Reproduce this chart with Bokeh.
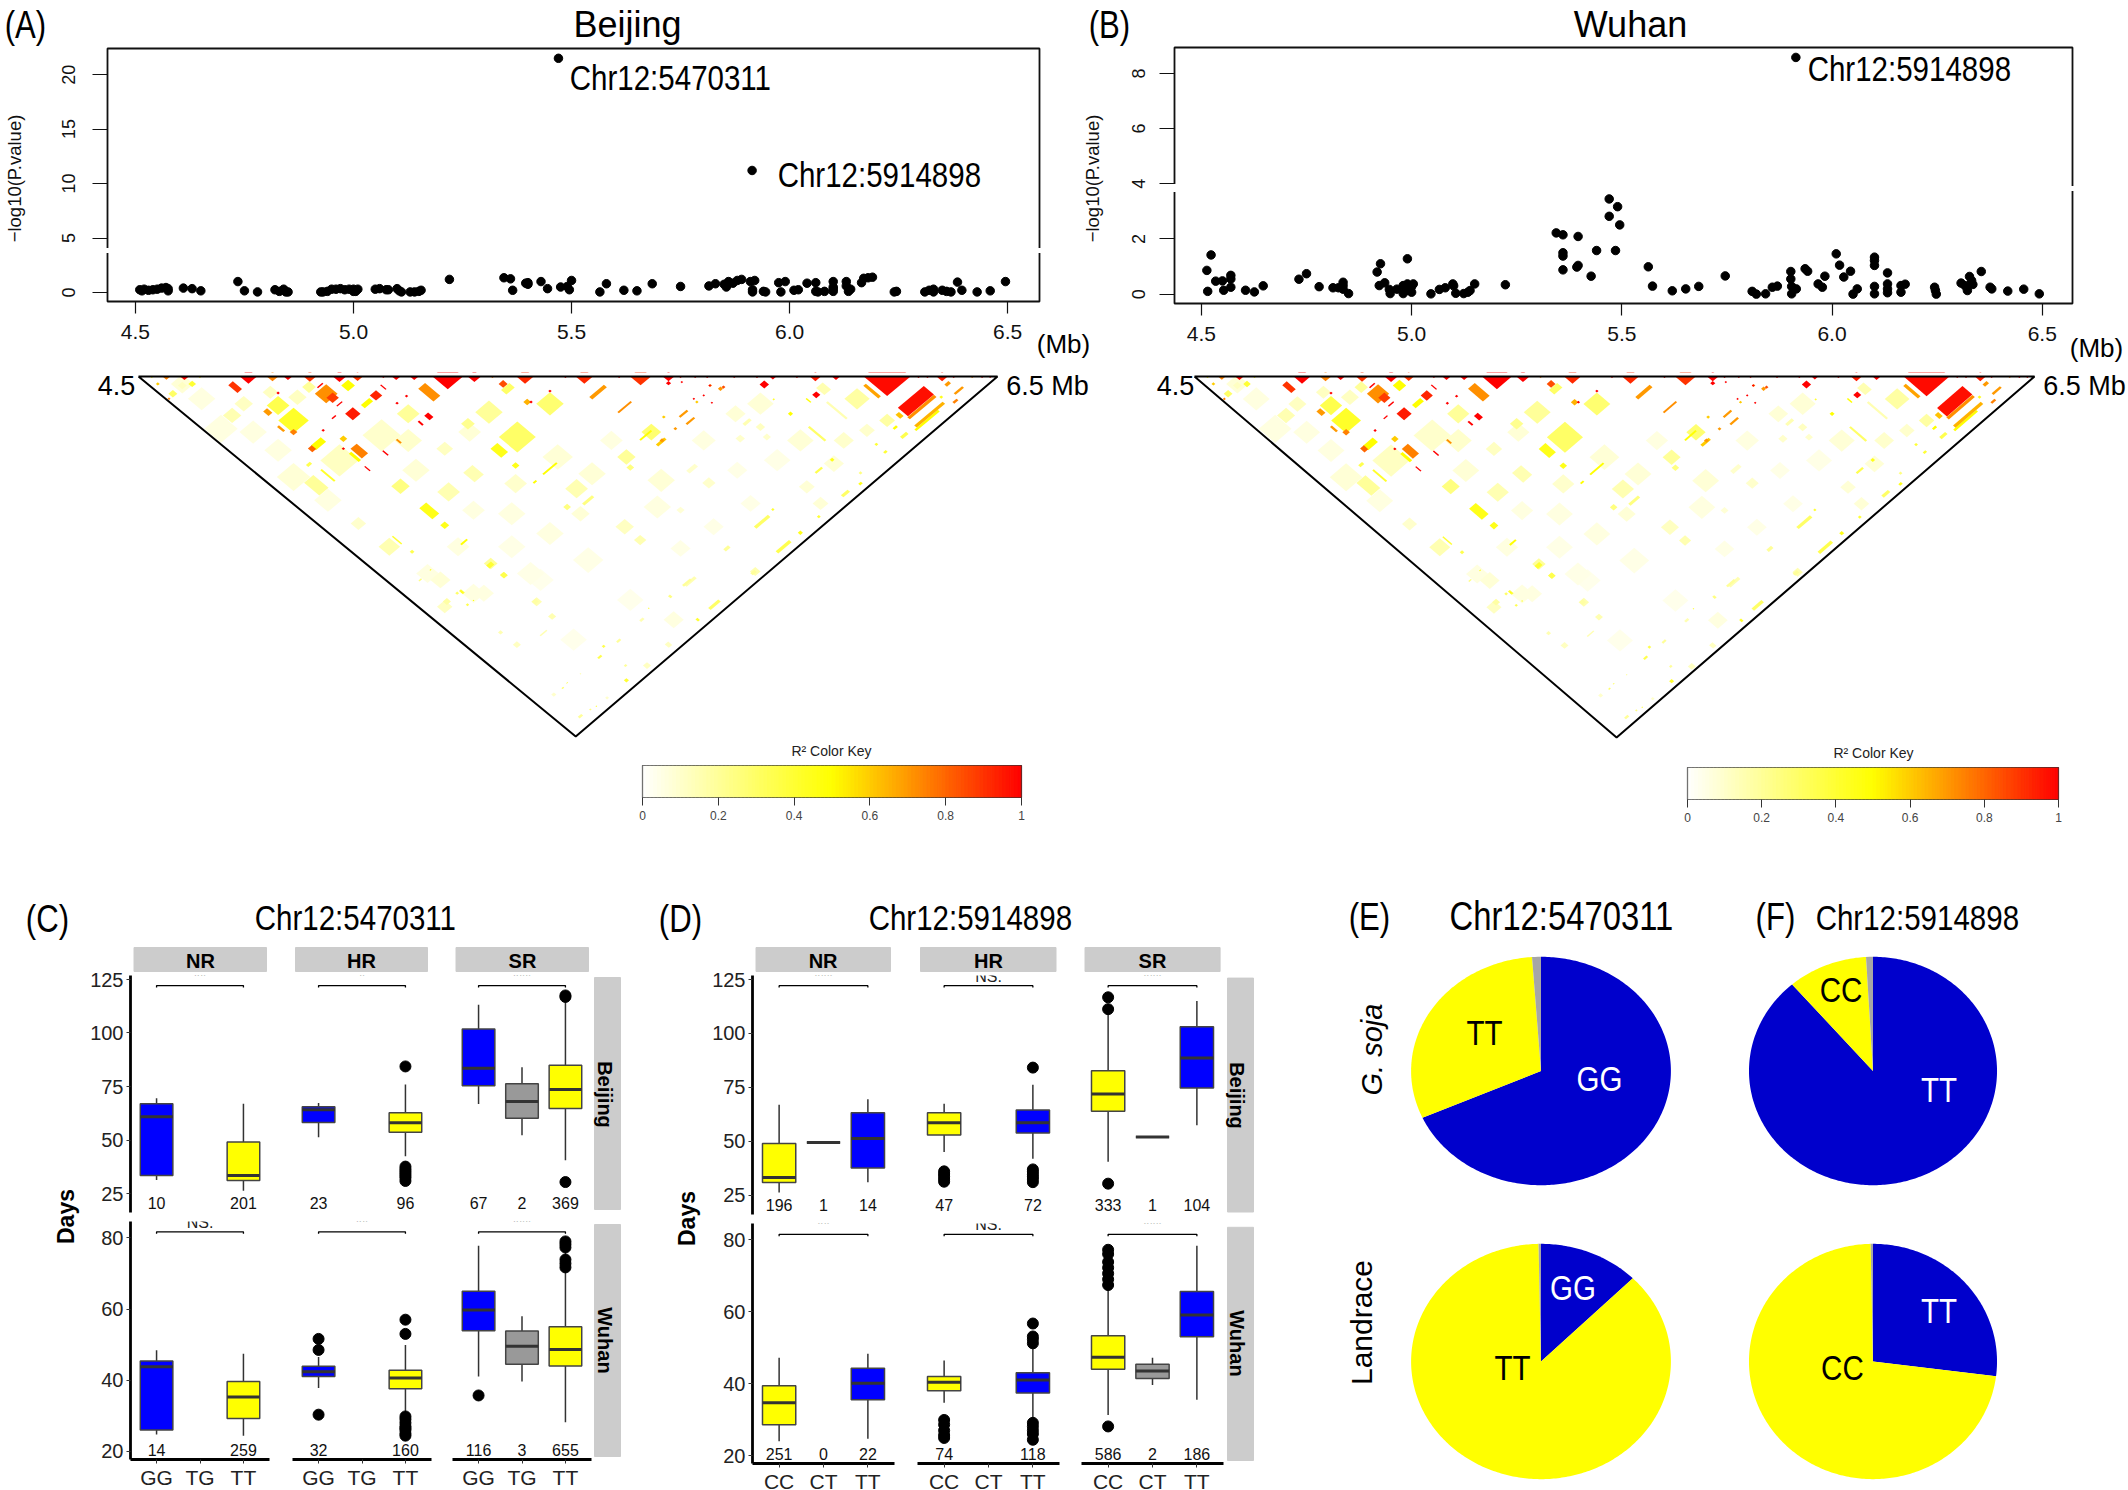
import math
import numpy as np
from bokeh.core.properties import value
from bokeh.embed import file_html
from bokeh.resources import INLINE
from bokeh.layouts import column
from bokeh.models import (ColumnDataSource, Range1d, LinearAxis, FixedTicker)
from bokeh.plotting import figure

# ---------- data ----------
BJ_X = [4.51,4.515,4.52,4.53,4.54,4.55,4.56,4.57,4.575,4.575,4.61,4.63,4.65,4.735,4.75,4.78,4.82,4.83,4.84,4.845,4.85,
        4.925,4.93,4.94,4.95,4.96,4.97,4.98,4.99,5.0,5.0,5.01,5.005,5.05,5.06,5.075,5.08,5.1,5.105,5.11,5.13,5.14,5.15,5.155,5.22,
        5.345,5.36,5.365,5.395,5.4,5.4,5.43,5.445,5.475,5.49,5.495,5.5,5.565,5.58,5.62,5.65,5.685,5.75,
        5.815,5.83,5.85,5.855,5.86,5.87,5.88,5.89,5.91,5.915,5.915,5.92,5.94,5.945,5.975,5.98,5.99,6.01,6.02,6.04,6.06,6.06,6.065,6.08,
        6.1,6.1,6.1,6.1,6.13,6.13,6.135,6.14,6.165,6.17,6.19,6.18,6.24,6.245,6.31,6.32,6.33,6.33,6.35,6.36,6.37,6.385,6.395,6.43,6.46,6.495,5.47,5.914]
BJ_Y = [.25,.15,.3,.2,.25,.3,.4,.45,.15,.35,.4,.35,.15,1.0,.15,.05,.25,.1,.3,.05,.05,
        .05,.05,.1,.3,.3,.35,.25,.3,.1,.3,.3,.1,.3,.35,.25,.25,.35,.15,.05,.05,.05,.1,.2,1.2,
        1.35,1.25,.2,.85,.9,.75,1.0,.35,.5,.55,.25,1.1,.05,.8,.2,.15,.8,.55,
        .6,.8,.75,.5,1.0,.85,1.1,1.2,1.0,.25,.05,1.1,.1,.05,.9,.05,1.0,.2,.25,.85,.9,.1,.05,.1,
        1.0,.5,.1,.3,1.0,.6,.1,.3,.9,1.3,1.4,1.35,.05,.1,.05,.2,.3,.05,.2,.1,.05,.95,.2,.05,.15,1.0,21.5,11.2]
WH_X = [4.515,4.513,4.523,4.534,4.55,4.553,4.57,4.57,4.57,4.605,4.626,4.647,4.732,4.75,4.78,4.813,4.826,4.837,4.837,4.837,4.85,
        4.918,4.926,4.923,4.936,4.947,4.949,4.965,4.98,4.98,4.99,4.99,4.994,5.0,5.004,5.0,5.046,5.066,5.08,5.098,5.105,5.1,5.124,5.134,5.139,5.15,5.223,
        5.344,5.36,5.396,5.36,5.36,5.36,5.393,5.396,5.427,5.44,5.485,5.47,5.49,5.47,5.495,5.563,5.573,5.62,5.652,5.683,5.746,
        5.81,5.82,5.842,5.858,5.87,5.902,5.902,5.904,5.904,5.915,5.936,5.942,5.967,5.977,5.983,6.01,6.018,6.028,6.044,6.05,6.06,
        6.101,6.101,6.101,6.101,6.101,6.132,6.132,6.132,6.132,6.164,6.164,6.174,6.244,6.246,6.248,6.307,6.316,6.322,6.327,6.332,6.335,6.355,6.376,6.38,6.418,6.456,6.493,5.914]
WH_Y = [.1,.86,1.42,.47,.48,.14,.68,.55,.25,.14,.08,.3,.54,.74,.27,.23,.23,.43,.31,.18,.02,
        .8,1.1,.31,.41,.17,.02,.18,.31,.02,1.28,.37,.13,.28,.37,.07,.01,.17,.23,.37,.03,.3,.02,.07,.13,.37,.34,
        2.22,2.15,2.09,1.5,1.38,.88,.98,1.04,.65,1.58,1.58,3.45,3.17,2.82,2.51,.99,.29,.12,.19,.28,.66,
        .1,.0,.01,.25,.29,.82,.55,.28,.01,.19,.92,.83,.37,.25,.65,1.46,1.05,.62,.83,.0,.19,
        1.34,1.22,1.04,.28,.01,.77,.37,.19,.05,.31,.07,.36,.25,.13,.0,.4,.31,.13,.64,.49,.35,.82,.25,.19,.11,.18,.01,8.58]

# LD blocks: centre (Mb) along the region, separation (Mb), extent along each SNP axis (Mb), r2
LD_BLOCKS = [
 (4.725,.059,.021,.043,.9),(4.937,.096,.053,.053,.72),(4.952,.118,.029,.029,.88),(4.988,.05,.032,.032,.5),
 (5.053,.105,.029,.029,.93),(5.032,.148,.039,.018,.5),(4.999,.207,.036,.036,.95),(5.177,.087,.032,.071,.72),
 (5.176,.222,.018,.025,1),(5.157,.259,.007,.021,1),(4.825,.161,.053,.053,.35),(4.801,.198,.018,.025,.7),
 (4.861,.244,.071,.071,.42),(4.832,.29,.009,.029,.7),(4.861,.309,.018,.018,.75),(4.919,.373,.046,.025,.5),
 (4.904,.401,.018,.021,.8),(5.014,.414,.029,.053,.75),(5.004,.447,.011,.046,.5),(5.033,.512,.005,.025,1),
 (5.075,.425,.005,.025,1),(4.977,.346,.018,.018,.6),(5.106,.36,.007,.021,.72),(5.316,.198,.064,.064,.2),
 (5.382,.336,.086,.086,.3),(5.34,.41,.032,.05,.45),(5.378,.494,.018,.018,.45),(5.267,.262,.032,.032,.22),
 (5.458,.152,.064,.064,.28),(5.405,.142,.018,.018,.65),(5.36,.068,.039,.025,.3),(5.349,.041,.021,.021,.85),
 (5.57,.087,.068,.014,.7),(5.632,.17,.061,.007,.72),(5.694,.309,.046,.046,.28),(5.681,.327,.053,.007,.5),
 (5.717,.364,.039,.011,.6),(5.128,.207,.053,.053,.2),(5.11,.61,.043,.043,.25),(4.914,.604,.043,.071,.2),
 (4.941,.549,.007,.064,.42),(4.897,.488,.018,.011,.35),(5.177,.747,.032,.061,.45),(5.213,.826,.021,.021,.45),
 (5.222,.641,.053,.053,.15),(5.28,.54,.043,.053,.15),(5.213,.401,.039,.039,.12),(5.458,.512,.064,.007,.5),
 (5.423,.586,.014,.007,.5),(5.52,.623,.053,.053,.15),(5.498,.725,.018,.018,.25),(5.547,.688,.046,.011,.25),
 (5.636,.447,.043,.043,.2),(5.645,.506,.018,.018,.25),(5.102,.909,.005,.043,.4),(5.084,.946,.05,.05,.15),
 (5.137,.974,.011,.011,.35),(5.012,.817,.036,.036,.1),(5.258,.919,.029,.007,.5),(5.32,1.039,.032,.032,.2),
 (5.351,1.104,.018,.018,.35),(5.213,1.279,.036,.036,.12),(5.253,1.196,.009,.018,.4),(5.427,1.251,.025,.025,.15),
 (5.632,.835,.043,.043,.12),(5.668,.909,.029,.029,.15),
 (4.923,.05,.025,.005,1),(4.968,.152,.025,.005,1),(5.07,.059,.005,.025,1),(4.955,.226,.018,.005,1),
 (4.825,.092,.008,.008,1),(4.93,.299,.008,.008,1),(4.977,.401,.008,.008,1),(5.102,.148,.008,.008,1),
 (5.124,.109,.008,.008,1),(5.458,.081,.008,.008,1),(5.414,.142,.008,.008,1),
 (6.208,.081,.012,.07,.68),(6.173,.124,.059,.059,.18),(6.31,.137,.121,.047,.97),(6.324,.17,.124,.012,.72),
 (6.272,.216,.016,.022,.62),(6.342,.212,.132,.012,.65),(6.336,.244,.109,.009,.5),(6.078,.102,.019,.019,1),
 (6.06,.133,.005,.022,.5),(6.095,.068,.031,.039,.15),(6.126,.188,.008,.093,.15),(6.402,.137,.019,.009,.75),
 (6.41,.078,.039,.009,.7),(6.384,.041,.019,.012,.7),(6.018,.207,.012,.012,.5),(6.08,.318,.008,.078,.3),
 (6.115,.462,.011,.011,.45),(6.084,.521,.031,.008,.35),(6.181,.595,.012,.009,.45),(6.181,.536,.009,.009,.25),
 (6.146,.65,.031,.012,.3),(6.084,.779,.009,.009,.4),(5.952,.807,.065,.012,.3),(5.977,.739,.008,.008,.4),
 (5.87,.955,.022,.012,.2),(6.002,.946,.062,.012,.35),(6.041,.868,.012,.012,.45),(5.936,1.084,.025,.025,.15),
 (5.785,1.139,.047,.012,.15),(5.828,.591,.031,.031,.1),(5.789,.512,.039,.016,.1),(5.762,.742,.019,.019,.08),
 (6.239,.419,.012,.009,.4),(6.218,.377,.009,.009,.4),(6.262,.284,.016,.009,.5),(6.283,.327,.028,.012,.35),
 (6.369,.114,.009,.009,.45),(6.243,.244,.037,.037,.18),(5.769,.207,.037,.008,.7),(5.785,.247,.037,.008,.7),
 (5.734,.037,.012,.012,1),(5.862,.059,.009,.009,.85),(5.855,.068,.012,.012,.7),(5.831,.05,.009,.008,.8),
 (5.75,.29,.009,.009,.7),(5.719,.355,.012,.012,.7),(5.723,.225,.009,.009,.6),(5.8,.142,.008,.008,.6),
 (5.816,.105,.006,.006,1),(5.835,.146,.006,.006,1),(5.793,.124,.006,.006,1),(5.765,.031,.006,.006,1),
 (5.83,.05,.006,.006,1),(5.957,.044,.022,.022,1),(5.948,.281,.022,.022,.12),(5.917,.253,.031,.012,.15),
 (5.901,.345,.022,.022,.1),(5.979,.127,.006,.006,.4),(5.963,.336,.019,.019,.1),
 (5.35,1.102,.016,.016,.35),(5.319,1.047,.022,.016,.4),(5.218,1.25,.019,.019,.18),(5.242,1.204,.009,.009,.3),
 (5.266,1.268,.008,.008,.35),(5.28,1.244,.004,.004,.5),(5.253,1.198,.004,.004,.5),(5.18,1.074,.006,.003,.5),
 (5.156,1.13,.012,.005,.25),(5.424,1.25,.016,.016,.18),(5.463,1.333,.019,.019,.15),(5.343,1.422,.012,.012,.15),
 (5.443,1.425,.031,.005,.15),(5.381,1.49,.019,.019,.12),(5.777,1.145,.037,.009,.2),(5.738,1.222,.009,.012,.25),
 (5.688,1.287,.004,.004,.4),(5.672,1.351,.016,.009,.15),(5.841,1.268,.047,.012,.3),(5.802,1.351,.009,.012,.4),
 (5.932,1.089,.019,.012,.2),(5.734,1.49,.016,.019,.12),(5.583,1.499,.009,.009,.35),(5.574,1.558,.016,.008,.35),
 (5.618,1.468,.016,.008,.2),(5.634,1.606,.009,.008,.2),(5.636,1.688,.012,.012,.4),(5.684,1.606,.019,.019,.12),
 (5.529,1.887,.016,.009,.2),(5.552,1.85,.006,.006,.25),(5.566,1.832,.004,.004,.4),(5.498,1.702,.006,.003,.35),
 (5.488,1.73,.008,.005,.3),(5.529,1.652,.004,.004,.2),(5.467,1.767,.012,.012,.1),(5.591,1.785,.009,.009,.1),
]
# pale background blocks of weak LD: centre, separation, extent, r2
LD_PALE = [
 (5.066,.327,.089,.1),(5.128,.355,.064,.1),(5.146,.521,.064,.08),(5.271,.309,.053,.08),(5.378,.595,.053,.1),
 (5.476,.447,.071,.08),(5.556,.54,.064,.08),(5.529,.762,.043,.08),(5.717,.577,.064,.08),(5.601,.355,.053,.06),
 (4.745,.152,.043,.12),(4.718,.216,.043,.15),(4.807,.087,.036,.12),(4.602,.041,.053,.08),(4.647,.124,.064,.06),
 (4.692,.29,.078,.06),(4.767,.309,.064,.06),(4.825,.41,.064,.06),(4.861,.558,.078,.08),(4.941,.688,.064,.06),
 (4.968,.466,.089,.12),(4.87,.115,.043,.12),(4.897,.059,.032,.2),(4.58,.096,.021,.3),(4.571,.124,.007,.75),
 (4.545,.041,.009,.6),(4.625,.041,.018,.4),(4.602,.05,.021,.12),(5.28,.743,.053,.06),(5.369,.762,.064,.06),
 (5.458,.872,.064,.06),(5.369,.946,.064,.05),(5.244,.946,.053,.06),(5.173,1.094,.053,.06),(5.547,1.02,.071,.05),
 (5.708,.725,.064,.06),(5.28,1.205,.053,.06),(5.413,1.094,.064,.05),
 (5.948,.151,.062,.08),(5.89,.207,.047,.08),(6.041,.355,.062,.08),(5.987,.465,.062,.05),(5.894,.521,.047,.05),
 (5.816,.355,.056,.06),(6.119,.484,.047,.08),(6.196,.299,.037,.1),(6.142,.355,.047,.1),(5.925,.705,.047,.05),
 (5.839,.835,.047,.05),(5.762,.955,.047,.05),(6.088,.705,.037,.08),(6.056,.613,.037,.08),
 (5.513,1.462,.062,.04),(5.645,1.241,.062,.04),(5.746,1.351,.047,.06),(5.436,1.13,.062,.04),(5.304,1.204,.047,.06),
 (5.203,1.13,.047,.08),
]
# high-LD groups on the diagonal: centre (Mb), width (Mb), r2
LD_PEAKS = [(4.756,.04,1),(4.607,.02,1),(4.565,.018,.75),(4.848,.02,1),(4.812,.027,.75),(4.899,.029,.9),(4.968,.031,1),
 (5.01,.025,.9),(5.1,.02,1),(5.142,.02,1),(5.22,.071,1),(5.282,.031,1),(5.4,.04,.92),(5.538,.04,.92),(5.669,.049,.9),
 (5.734,.027,1),(5.977,.016,1),(6.076,.026,.95),(6.124,.019,1),(6.243,.109,.98),(6.371,.026,.95),
 (5.887,.008,1),(5.94,.008,1),(6.033,.008,1),(6.316,.008,1),(6.337,.008,1),(6.398,.008,1),(6.441,.008,.75),
 (6.464,.008,1),(6.483,.008,1),(5.824,.008,1),(5.796,.008,1),(5.762,.008,1),(4.531,.008,.5),(4.643,.008,.5),
 (4.763,.008,1),(4.892,.008,1),(5.07,.008,1),(5.324,.008,.75),(5.494,.008,1),(5.619,.008,1)]

# Box statistics: (low whisker, q1, median, q3, high whisker, outliers)
C_BJ = {"NR": [(31.4,33.6,61,67,69.6,[]), None, (26.4,31.2,33.6,49.2,67,[])],
        "HR": [(51.4,58.3,64.2,65.6,67.4,[]), None,
               (42.5,53.7,58.2,62.8,76,[84.4,37.7,36.5,35.5,34.5,33.5,32.5,31])],
        "SR": [(66.9,75.4,83.6,101.8,113.2,[]), (52.3,60.3,68.1,76.3,84,[]),
               (40.7,64.8,73.7,85,116.4,[116.8,117.5,30.5])]}
C_WH = {"NR": [(24.7,26,43.8,45.4,48.4,[]), None, (24.4,29.2,35.3,39.6,47.4,[])],
        "HR": [(37.8,41,42.4,43.9,46.5,[51.6,48.5,30.3]), None,
               (30.1,37.6,40.6,42.8,49.9,[57,53,29.8,29,28,27,26.5,26,25,24.4])],
        "SR": [(41,53.9,59.7,65,77.8,[35.7]), (39.6,44.5,49.5,53.8,58,[]),
               (28.2,44,48.6,55,77.6,[79,78.2,77.3,73.9,72.8,71.7])]}
D_BJ = {"NR": [(26.2,30.8,33.1,48.9,66.9,[]), (49.4,49.4,49.4,49.4,49.4,[]), (31,37.6,51.2,63.2,69.4,[])],
        "HR": [(45,52.8,58.5,63.2,67.3,[36,34.8,33.7,32.4,31.2]), None,
               (41.8,53.8,58.5,64.5,76.2,[84.1,36.9,35.8,34.6,33.5,32.4,31])],
        "SR": [(40.4,63.9,71.9,82.7,109.4,[116.7,111.2,30.3]), (51.9,51.9,51.9,51.9,51.9,[]),
               (57.4,74.6,88.5,103,115,[])]}
D_WH = {"NR": [(24,28.6,34.7,39.4,47.2,[]), None, (24.7,35.5,40.1,44.3,48.3,[])],
        "HR": [(34.7,38,40.4,42,46.4,[29.9,28.6,27,25.7,24.9]), None,
               (30.2,37.4,41,43,50.4,[56.7,53.1,52.3,51.2,29.1,28.1,27,26,24.4])],
        "SR": [(31.3,44,47.3,53.3,66.4,[28.1,77.2,76,73.8,72.2,70.6,69,67.4]), (39.6,41.4,43.5,45.4,47.2,[]),
               (35.5,53,59.1,65.6,78.3,[])]}
C_N_BJ = {"NR": ["10","","201"], "HR": ["23","","96"], "SR": ["67","2","369"]}
C_N_WH = {"NR": ["14","","259"], "HR": ["32","","160"], "SR": ["116","3","655"]}
D_N_BJ = {"NR": ["196","1","14"], "HR": ["47","","72"], "SR": ["333","1","104"]}
D_N_WH = {"NR": ["251","0","22"], "HR": ["74","","118"], "SR": ["586","2","186"]}
C_SIG_BJ = {"NR": "**", "HR": "*", "SR": "***"}
C_SIG_WH = {"NR": "NS.", "HR": "**", "SR": "***"}
D_SIG_BJ = {"NR": "***", "HR": "NS.", "SR": "***"}
D_SIG_WH = {"NR": "**", "HR": "NS.", "SR": "***"}
C_CATS = ["GG", "TG", "TT"]
D_CATS = ["CC", "CT", "TT"]
GROUPS = ["NR", "HR", "SR"]

# Pie shares clockwise from 12 o'clock
PIE_E_SOJA = [("#0000cc", 68.3), ("#ffff00", 30.6), ("#a6a6a6", 1.1)]
PIE_E_LAND = [("#0000cc", 12.5), ("#ffff00", 87.2), ("#a6a6a6", 0.3)]
PIE_F_SOJA = [("#0000cc", 88.7), ("#ffff00", 10.4), ("#a6a6a6", 0.9)]
PIE_F_LAND = [("#0000cc", 27.0), ("#ffff00", 72.7), ("#a6a6a6", 0.3)]

BLUE, YEL, GREY = "#0000ff", "#ffff00", "#999999"
SANS = "Liberation Sans"
PAGE_W, PAGE_H = 2128, 1490
figs = []
tick_texts = []


def r2color(r):
    if r <= .5:
        return "#ffff%02x" % int(round(255 * (1 - r / .5)))
    return "#ff%02x00" % int(round(255 * (1 - (r - .5) / .5)))


def panel(left, top, w, h, xr, yr, ml=5, mr=5, mt=5, mb=5, **kw):
    styles = {"position": "absolute", "left": f"{left - ml}px", "top": f"{top - mt}px"}
    p = figure(width=int(round(w + ml + mr)), height=int(round(h + mt + mb)),
               x_range=Range1d(*xr), y_range=Range1d(*yr),
               x_axis_location=None, y_axis_location=None, frame_align=False,
               min_border_left=ml, min_border_right=mr, min_border_top=mt, min_border_bottom=mb,
               toolbar_location=None, output_backend="svg",
               border_fill_color=None, background_fill_color=None, outline_line_color=None,
               styles=styles, **kw)
    p.grid.visible = False
    figs.append(p)
    return p


def manhattan(left, top, w, h, xr, yr, xs, ys, yticks, label_x):
    p = panel(left, top, w, h, xr, yr, ml=70, mb=60)
    p.outline_line_color = "#111111"
    p.outline_line_width = 1.8
    p.scatter(xs, ys, size=8.5, color="black")
    xa = LinearAxis(ticker=FixedTicker(ticks=[4.5, 5, 5.5, 6, 6.5]),
                    major_label_overrides={4.5: "4.5", 5: "5.0", 5.5: "5.5", 6: "6.0", 6.5: "6.5"})
    ya = LinearAxis(ticker=FixedTicker(ticks=yticks), major_label_overrides={t: "" for t in yticks})
    for a, size in ((xa, "21px"), (ya, "18px")):
        a.axis_line_color = None
        a.major_tick_in = 0
        a.major_tick_line_color = "#111111"
        a.major_tick_line_width = 1.2
        a.minor_tick_line_color = None
        a.major_label_text_font = SANS
        a.major_label_text_font_size = size
        a.major_label_text_color = "#111111"
    xa.major_tick_out = 12
    xa.major_label_standoff = 11
    ya.major_tick_out = 15
    p.add_layout(xa, "below")
    p.add_layout(ya, "left")
    # R draws its y tick labels rotated and centred on the tick
    for t in yticks:
        tick_texts.append((str(t), label_x, top + h * (yr[1] - t) / (yr[1] - yr[0]), 18, math.pi / 2, "normal", "#111111"))


def ld(left, right, top, depth, apex):
    k = (right - left) / 2.0
    s = depth / 2.0
    xr = (4.5 - 20 / k, 6.5 + 20 / k)
    yr = (2 + 4 / s, -4 / s)
    w = (xr[1] - xr[0]) * k
    h = (yr[0] - yr[1]) * s
    p = panel(left - 20, top - 4, w, h, xr, yr, ml=0, mr=0, mt=0, mb=0)
    blocks = (list(LD_BLOCKS) + [(m, sp, d, d, r) for m, sp, d, r in LD_PALE]
              + [(m, 0, d, d, r) for m, d, r in LD_PEAKS])
    blocks.sort(key=lambda b: b[4])
    xs, ys, cols = [], [], []
    for mid, sep, da, db, r in blocks:
        a, b = mid - sep / 2, mid + sep / 2
        corners = [(a - da / 2, b - db / 2), (a + da / 2, b - db / 2), (a + da / 2, b + db / 2), (a - da / 2, b + db / 2)]
        xs.append([(u + v) / 2 for u, v in corners])
        ys.append([v - u for u, v in corners])
        cols.append(r2color(r))
    p.patches(xs, ys, fill_color=cols, line_color=None)
    # white out whatever falls outside the triangular matrix
    p.patch([xr[0], xr[1], xr[1], xr[0]], [yr[1], yr[1], 0, 0], color="white", line_color=None)
    p.patch([xr[0], 4.5, apex, xr[0]], [0, 0, 2, yr[0]], color="white", line_color=None)
    p.patch([xr[1], 6.5, apex, xr[1]], [0, 0, 2, yr[0]], color="white", line_color=None)
    p.line([4.5, 6.5, apex, 4.5], [0, 0, 2, 0], color="black", line_width=2)


def key(left, top, w, h):
    p = panel(left, top, w, h, (0, 1), (0, 1), ml=20, mr=20, mb=40)
    p.outline_line_color = "#333333"
    p.outline_line_width = 1.2
    edges = np.linspace(0, 1, 101)
    p.quad(left=edges[:-1], right=edges[1:], bottom=0, top=1,
           color=[r2color(v) for v in (edges[:-1] + edges[1:]) / 2])
    p.line([0, 0, 1, 1, 0], [0, 1, 1, 0, 0], color="#333333", line_width=1.2)
    a = LinearAxis(ticker=FixedTicker(ticks=[0, .2, .4, .6, .8, 1]),
                   major_label_overrides={0: "0", .2: "0.2", .4: "0.4", .6: "0.6", .8: "0.8", 1: "1"})
    a.axis_line_color = None
    a.major_tick_in = 0
    a.major_tick_out = 8
    a.major_tick_line_color = "#333333"
    a.minor_tick_line_color = None
    a.major_label_text_font = SANS
    a.major_label_text_font_size = "12px"
    a.major_label_standoff = 5
    p.add_layout(a, "below")


def boxpanel(left, top, w, h, yr, stats, counts, sig, cats, colors, bracket, nlabel, yticks, show_y, show_x):
    p = panel(left, top, w, h, (.4, 3.6), yr, ml=60 if show_y else 3, mr=3, mt=3, mb=40 if show_x else 3)
    for i, st in enumerate(stats):
        x = i + 1
        if st is None:
            continue
        lo, q1, med, q3, hi, out = st
        p.segment([x, x], [lo, q3], [x, x], [q1, hi], color="#333333", line_width=1.5)
        p.vbar([x], .75, [q1], [q3], fill_color=colors[i], line_color="#444444", line_width=1.5)
        p.segment([x - .375], [med], [x + .375], [med], color="#333333", line_width=3)
        if out:
            p.scatter([x] * len(out), out, size=11, color="black")
    tip = (yr[1] - yr[0]) * .008
    p.line([1, 1, 3, 3], [bracket - tip, bracket, bracket, bracket - tip], color="black", line_width=1.3)
    p.text([2], [bracket], text=[sig], text_font_size="16px", text_align="center", text_baseline="bottom",
           text_font=value(SANS), text_color="#222222", y_offset=-1)
    ix = [i for i, c in enumerate(counts) if c]
    p.text([i + 1 for i in ix], [nlabel] * len(ix), text=[counts[i] for i in ix], text_font_size="16px",
           text_align="center", text_baseline="middle", text_font=value(SANS), text_color="#111111")
    if show_y:
        a = LinearAxis(ticker=FixedTicker(ticks=yticks))
        a.major_label_text_font = SANS
        a.major_label_text_font_size = "20px"
        a.major_label_text_color = "#222222"
        a.axis_line_color = "black"
        a.axis_line_width = 2.8
        a.major_tick_in = 0
        a.major_tick_out = 4
        a.major_tick_line_color = "#333333"
        a.minor_tick_line_color = None
        a.major_label_standoff = 3
        p.add_layout(a, "left")
    if show_x:
        a = LinearAxis(ticker=FixedTicker(ticks=[1, 2, 3]), major_label_overrides=dict(zip([1, 2, 3], cats)))
        a.major_label_text_font = SANS
        a.major_label_text_font_size = "21px"
        a.major_label_text_color = "#222222"
        a.axis_line_color = "black"
        a.axis_line_width = 2.8
        a.major_tick_in = 0
        a.major_tick_out = 4
        a.major_tick_line_color = "#333333"
        a.minor_tick_line_color = None
        a.major_label_standoff = 2
        p.add_layout(a, "below")


def pie(cx, cy, rx, ry, shares):
    m = 1.02
    p = panel(cx - rx * m, cy - ry * m, 2 * rx * m, 2 * ry * m, (-m, m), (-m, m), ml=0, mr=0, mt=0, mb=0)
    start = 0.0
    for col, pct in shares:
        t = np.radians(np.linspace(start, start + pct * 3.6, max(3, int(pct * 4))))
        p.patch(np.r_[0, np.sin(t)], np.r_[0, np.cos(t)], color=col, line_color=None)
        start += pct * 3.6


# ---------- top panels ----------
manhattan(107, 48, 932, 253, (4.436, 6.573), (-.83, 22.4), BJ_X, BJ_Y, [0, 5, 10, 15, 20], 68)
manhattan(1174, 47, 898, 256, (4.436, 6.572), (-.34, 8.94), WH_X, WH_Y, [0, 2, 4, 6, 8], 1138)
ld(138, 997, 376, 360, 5.518)
ld(1194, 2034, 376, 361, 5.505)
key(642, 765, 379, 32)
key(1687, 767, 371, 32)

# ---------- box panels ----------
col_C = {"GG": BLUE, "TG": GREY, "TT": YEL}
col_D = {"CC": YEL, "CT": GREY, "TT": BLUE}
for left, g in zip([130, 292, 452], GROUPS):
    first = g == "NR"
    boxpanel(left, 975, 139, 237, (16.3, 126.8), C_BJ[g], C_N_BJ[g], C_SIG_BJ[g], C_CATS,
             [col_C[c] for c in C_CATS], 122.1, 20.9, [25, 50, 75, 100, 125], first, False)
    boxpanel(left, 1221, 139, 238, (17.7, 84.6), C_WH[g], C_N_WH[g], C_SIG_WH[g], C_CATS,
             [col_C[c] for c in C_CATS], 81.7, 20.5, [20, 40, 60, 80], first, True)
for left, g in zip([752, 917, 1081], GROUPS):
    first = g == "NR"
    boxpanel(left, 975, 142, 239, (16, 126.8), D_BJ[g], D_N_BJ[g], D_SIG_BJ[g], D_CATS,
             [col_D[c] for c in D_CATS], 122.1, 20.6, [25, 50, 75, 100, 125], first, False)
    boxpanel(left, 1223, 142, 240, (17.8, 84.5), D_WH[g], D_N_WH[g], D_SIG_WH[g], D_CATS,
             [col_D[c] for c in D_CATS], 81.5, 20.5, [20, 40, 60, 80], first, True)

# ---------- pies ----------
pie(1540.6, 1071, 130, 114.4, PIE_E_SOJA)
pie(1540.6, 1361, 130, 117.7, PIE_E_LAND)
pie(1872.6, 1071, 124.2, 114.4, PIE_F_SOJA)
pie(1872.3, 1361, 124, 117.7, PIE_F_LAND)

# ---------- page-level strips and labels ----------
canvas = panel(0, 0, PAGE_W, PAGE_H, (0, PAGE_W), (PAGE_H, 0), ml=0, mr=0, mt=0, mb=0)
STRIPS = [(133.5, 266, 947, 971), (295, 427, 947, 971), (455.5, 588, 947, 971),
          (594, 620, 977, 1209), (594, 620, 1224, 1456),
          (755.5, 890, 947, 971), (920, 1055.5, 947, 971), (1084.5, 1219.6, 947, 971),
          (1227, 1253, 977.6, 1211.5), (1227, 1253, 1226.8, 1460)]
canvas.quad(left=[s[0] for s in STRIPS], right=[s[1] for s in STRIPS], top=[s[2] for s in STRIPS],
            bottom=[s[3] for s in STRIPS], color="#cccccc")
# small breaks in the plot frames of the original
BREAKS = [(104, 110, 248, 252), (1036, 1042, 248, 252), (1171, 1177, 184, 191), (2069, 2075, 186, 190)]
canvas.quad(left=[s[0] for s in BREAKS], right=[s[1] for s in BREAKS], top=[s[2] for s in BREAKS],
            bottom=[s[3] for s in BREAKS], color="white")
V, W = math.pi / 2, -math.pi / 2
TEXTS = tick_texts + [
 ("Beijing", 627, 24, 36, 0, "normal", "black"), ("Wuhan", 1630, 24, 36, 0, "normal", "black"),
 ("\u2212log10(P.value)", 14, 178, 18.5, V, "normal", "#111111"),
 ("\u2212log10(P.value)", 1092, 178, 18.5, V, "normal", "#111111"),
 ("(Mb)", 1063, 343, 26, 0, "normal", "black"), ("(Mb)", 2096, 347, 26, 0, "normal", "black"),
 ("4.5", 116, 385, 27, 0, "normal", "black"), ("6.5 Mb", 1047, 385, 27, 0, "normal", "black"),
 ("4.5", 1175, 385, 27, 0, "normal", "black"), ("6.5 Mb", 2084, 385, 27, 0, "normal", "black"),
 ("R\u00b2 Color Key", 831, 750, 14, 0, "normal", "#222222"), ("R\u00b2 Color Key", 1873, 752, 14, 0, "normal", "#222222"),
 ("NR", 200, 960, 20, 0, "bold", "black"), ("HR", 361, 960, 20, 0, "bold", "black"), ("SR", 522, 960, 20, 0, "bold", "black"),
 ("NR", 822.6, 960, 20, 0, "bold", "black"), ("HR", 988, 960, 20, 0, "bold", "black"), ("SR", 1152, 960, 20, 0, "bold", "black"),
 ("Beijing", 604, 1094, 20, W, "bold", "black"), ("Wuhan", 604, 1340, 20, W, "bold", "black"),
 ("Beijing", 1236, 1095, 20, W, "bold", "black"), ("Wuhan", 1236, 1343, 20, W, "bold", "black"),
 ("Days", 65, 1216, 23, V, "bold", "black"), ("Days", 686, 1218, 23, V, "bold", "black"),
 ("G. soja", 1371, 1049, 29, V, "italic", "black"), ("Landrace", 1361, 1322, 30, V, "normal", "black"),
]
# The condensed labels of the original: same font, drawn on layers narrowed by CSS
NARROW_TEXTS = [
 ("(A)", 25, 25, 38, "black"), ("(B)", 1109, 25, 38, "black"),
 ("(C)", 47, 919, 38, "black"), ("(D)", 680, 919, 38, "black"),
 ("(E)", 1369, 917, 38, "black"), ("(F)", 1775, 917, 38, "black"),
 ("Chr12:5470311", 670, 77, 36, "black"), ("Chr12:5914898", 879, 174, 36, "black"),
 ("Chr12:5914898", 1909, 68, 36, "black"),
 ("Chr12:5470311", 355, 917, 36, "black"), ("Chr12:5914898", 970, 917, 36, "black"),
 ("Chr12:5470311", 1561, 915, 40, "black"), ("Chr12:5914898", 1917, 917, 36, "black"),
 ("TT", 1484, 1032, 36, "black"), ("GG", 1599, 1078, 36, "white"),
 ("CC", 1840.6, 989, 36, "black"), ("TT", 1938.5, 1089, 36, "white"),
 ("GG", 1572.6, 1287, 36, "white"), ("TT", 1512, 1367, 36, "black"),
 ("TT", 1938.5, 1310, 36, "white"), ("CC", 1842, 1367, 36, "black"),
]
src = ColumnDataSource(dict(t=[r[0] for r in TEXTS], x=[r[1] for r in TEXTS], y=[r[2] for r in TEXTS],
                            size=[f"{r[3]}px" for r in TEXTS], a=[r[4] for r in TEXTS],
                            st=[r[5] for r in TEXTS], c=[r[6] for r in TEXTS]))
canvas.text(x="x", y="y", text="t", angle="a", text_font_size="size", text_font=value(SANS), text_font_style="st",
            text_color="c", text_align="center", text_baseline="middle", source=src)

SQUEEZE = 0.82


def narrow_layer(x0, x1, rows):
    # the drawing surface of a narrowed layer stops short of its frame, so it is made wider still
    w = int(round((x1 - x0) / SQUEEZE ** 2))
    lay = panel(x0, 0, w, PAGE_H, (x0, x0 + w * SQUEEZE), (PAGE_H, 0), ml=0, mr=0, mt=0, mb=0,
                stylesheets=[f":host > * {{ transform: scaleX({SQUEEZE}); transform-origin: 0 0; }}"])
    s = ColumnDataSource(dict(t=[r[0] for r in rows], x=[r[1] for r in rows], y=[r[2] for r in rows],
                              size=[f"{r[3]}px" for r in rows], c=[r[4] for r in rows]))
    lay.text(x="x", y="y", text="t", text_font_size="size", text_font=value(SANS), text_color="c",
             text_align="center", text_baseline="middle", source=s)


narrow_layer(0, 1400, [r for r in NARROW_TEXTS if r[1] < 1300])
narrow_layer(1300, PAGE_W, [r for r in NARROW_TEXTS if r[1] >= 1300])

root = column(*figs, width=PAGE_W, height=PAGE_H, sizing_mode="fixed",
              styles={"position": "absolute", "left": "0px", "top": "0px", "overflow": "hidden"})
open("out.html", "w").write(file_html(root, INLINE))
